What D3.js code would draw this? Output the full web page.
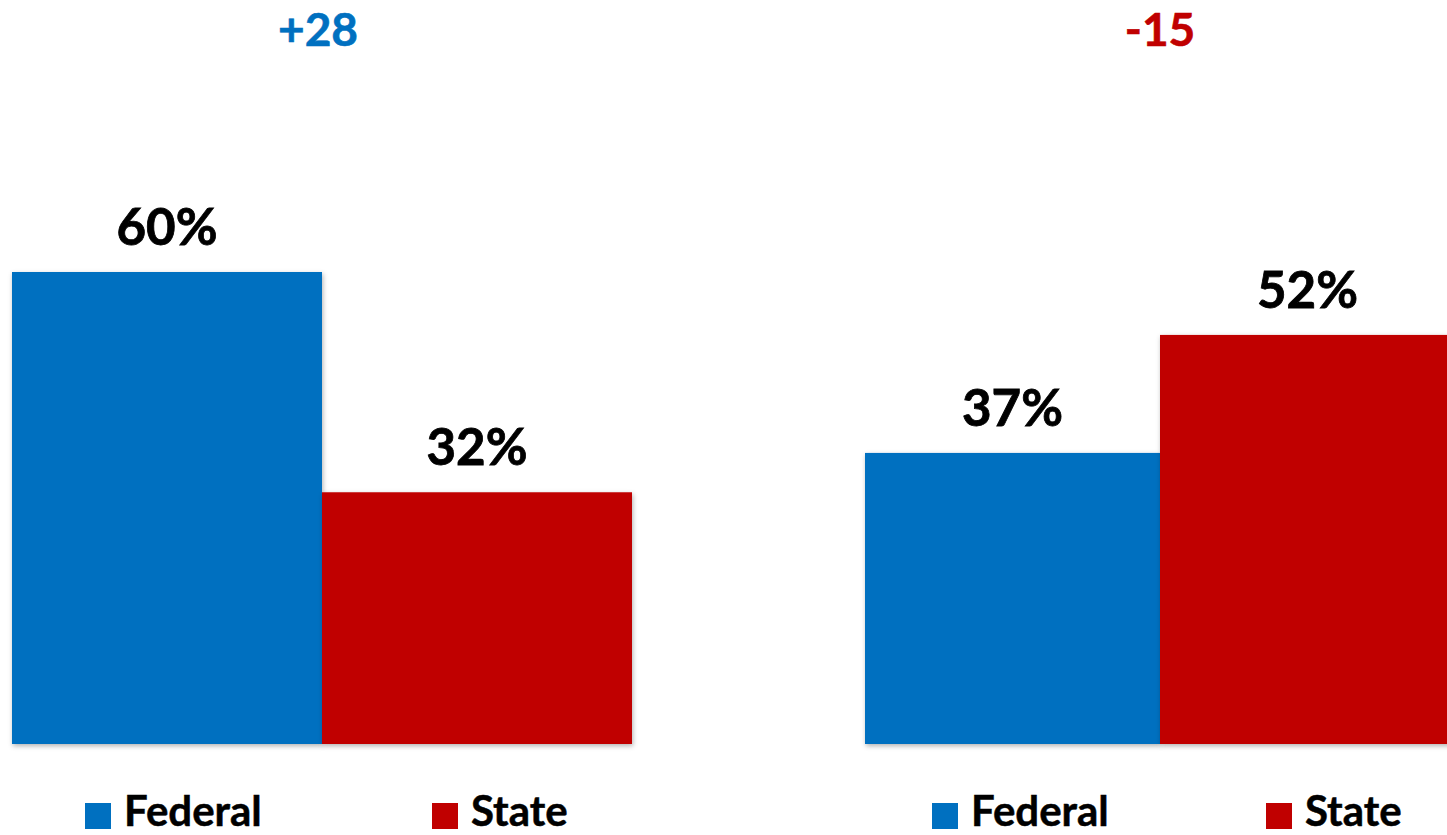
<!DOCTYPE html>
<html>
<head>
<meta charset="utf-8">
<script src="https://cdn.jsdelivr.net/npm/d3@7"></script>
<style>
  html, body { margin: 0; padding: 0; background: #fff; }
  svg { display: block; }
  text { font-family: Lato, "Open Sans", sans-serif; font-weight: 700; }
</style>
</head>
<body>
<svg id="chart" width="1447" height="835"></svg>
<script>
// ---- data ----
const series = ["Federal", "State"];
const federalValues = [60, 37];
const stateValues = [32, 52];
const seriesColors = ["#0070C0", "#C00000"];

// ---- layout (per panel) ----
const panelLayout = [
  { x0: 12, x1: 632, legendX: [85, 432], diffShift: -4 },
  { x0: 865, x1: 1455, legendX: [932, 1266], diffShift: 0 }
];

const svg = d3.select("#chart");
const defs = svg.append("defs");
const f = defs.append("filter").attr("id", "shadow")
  .attr("x", "-5%").attr("y", "-5%").attr("width", "110%").attr("height", "110%");
f.append("feDropShadow").attr("dx", 1).attr("dy", 2).attr("stdDeviation", 2.5)
  .attr("flood-color", "#000").attr("flood-opacity", 0.3);

const y = d3.scaleLinear().domain([0, 60]).range([744, 272]);

panelLayout.forEach((p, i) => {
  const vals = [federalValues[i], stateValues[i]];
  const x = d3.scaleBand().domain(series).range([p.x0, p.x1]).padding(0);
  const g = svg.append("g");

  g.selectAll("rect.bar").data(series).join("rect")
    .attr("class", "bar")
    .attr("x", d => x(d))
    .attr("y", (d, j) => y(vals[j]))
    .attr("width", x.bandwidth())
    .attr("height", (d, j) => y(0) - y(vals[j]))
    .attr("fill", (d, j) => seriesColors[j])
    .attr("filter", "url(#shadow)");

  g.selectAll("text.val").data(series).join("text")
    .attr("class", "val")
    .attr("x", d => x(d) + x.bandwidth() / 2)
    .attr("y", (d, j) => y(vals[j]) - 27)
    .attr("text-anchor", "middle")
    .attr("font-size", 51)
    .attr("fill", "#000")
    .attr("stroke", "#000").attr("stroke-width", 0.8)
    .text((d, j) => vals[j] + "%");

  const diff = vals[0] - vals[1];
  const dc = diff >= 0 ? seriesColors[0] : seriesColors[1];
  g.append("text")
    .attr("x", x("State") + p.diffShift)
    .attr("y", 46)
    .attr("text-anchor", "middle")
    .attr("font-size", 46)
    .attr("fill", dc)
    .attr("stroke", dc).attr("stroke-width", 0.6)
    .text((diff >= 0 ? "+" : "-") + Math.abs(diff));

  const lg = g.selectAll("g.leg").data(series).join("g")
    .attr("class", "leg")
    .attr("transform", (d, j) => `translate(${p.legendX[j]},803)`);
  lg.append("rect").attr("width", 26).attr("height", 26)
    .attr("fill", (d, j) => seriesColors[j]);
  lg.append("text").attr("x", 39).attr("y", 23)
    .attr("font-size", 42).attr("fill", "#000")
    .attr("stroke", "#000").attr("stroke-width", 0.5)
    .text(d => d);
});
</script>
</body>
</html>
